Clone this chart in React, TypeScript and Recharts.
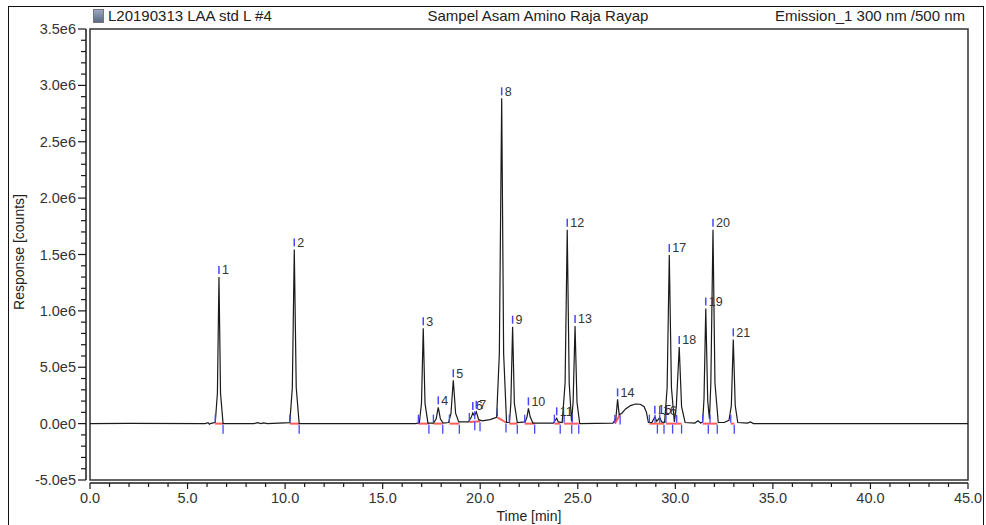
import React from "react";
import {
  ComposedChart,
  Line,
  Scatter,
  XAxis,
  YAxis,
  ReferenceArea,
  ReferenceLine,
} from "recharts";

// chromatogram trace: time [min] / response [counts]
const traceTime = [
  0, 2, 5.9, 6.05, 6.12, 6.2, 6.42, 6.53, 6.61, 6.69, 6.82, 8.4, 8.6, 8.75, 8.9, 9.1,
  10.24, 10.37, 10.47, 10.57, 10.72, 16.7, 16.88, 16.99, 17.08, 17.17, 17.32, 17.6,
  17.74, 17.85, 17.96, 18.1, 18.38, 18.5, 18.62, 18.74, 18.9, 19.4, 19.55, 19.62, 19.7,
  19.8, 19.92, 20.1, 20.5, 20.84, 20.98, 21.1, 21.2, 21.35, 21.5, 21.57, 21.66, 21.75,
  21.9, 22.3, 22.4, 22.47, 22.56, 22.7, 23.75, 23.85, 23.92, 24.0, 24.2, 24.35, 24.46,
  24.56, 24.68, 24.76, 24.86, 24.96, 25.1, 26.8, 26.95, 27.04, 27.12, 27.25, 27.45,
  27.7, 27.95, 28.2, 28.4, 28.52, 28.62, 28.8, 28.95, 29.05, 29.2, 29.3, 29.45, 29.58,
  29.69, 29.8, 29.95, 30.05, 30.2, 30.32, 30.5, 31.0, 31.16, 31.3, 31.4, 31.47, 31.56,
  31.66, 31.75, 31.82, 31.93, 32.03, 32.2, 32.5, 32.75, 32.87, 32.97, 33.07, 33.2, 33.7,
  33.85, 34.0, 45,
];
const traceResp = [
  0, 2000, 0, 9000, -6000, 3000, 10000, 270000, 1300000, 270000, 0, 0, 8000, 0, 6000, 0,
  8000, 320000, 1545000, 320000, 0, 0, 8000, 180000, 845000, 180000, 5000, 5000,
  40000, 145000, 40000, 5000, 10000, 90000, 385000, 90000, 15000, 15000, 60000, 95000, 70000,
  105000, 35000, 25000, 35000, 56000, 620000, 2885000, 620000, 10000, 10000, 180000, 860000, 180000,
  10000, 15000, 60000, 135000, 60000, 5000, 5000, 30000, 47000, 15000, 10000, 360000, 1720000,
  360000, 20000, 190000, 865000, 190000, 0, 5000, 40000, 215000, 80000, 90000, 130000,
  160000, 174000, 172000, 150000, 100000, 10000, 10000, 60000, 20000, 55000, 15000, 10000, 320000,
  1495000, 320000, 15000, 150000, 680000, 150000, 10000, 5000, 25000, 5000, 15000, 220000, 1020000,
  200000, 40000, 360000, 1720000, 360000, 10000, 10000, 30000, 160000, 747000, 160000, 10000, 5000,
  15000, 0, 0,
];

// labelled peaks
const peakNames = ["1", "2", "3", "4", "5", "6", "7", "8", "9", "10", "11", "12", "13", "14", "15", "16", "17", "18", "19", "20", "21"];
const peakTime = [6.61, 10.47, 17.08, 17.85, 18.62, 19.62, 19.8, 21.1, 21.66, 22.47, 23.92, 24.46, 24.86, 27.04, 28.95, 29.2, 29.69, 30.2, 31.56, 31.93, 32.97];
const peakResp = [1300000, 1545000, 845000, 145000, 385000, 95000, 105000, 2885000, 860000, 135000, 47000, 1720000, 865000, 215000, 60000, 55000, 1495000, 680000, 1020000, 1720000, 747000];

// integration marks (peak start = tick up, peak end = tick down)
const startTime = [6.42, 10.24, 16.83, 17.6, 18.42, 19.44, 19.72, 20.88, 21.49, 22.28, 23.8, 24.3, 24.72, 26.9, 28.67, 28.96, 29.2, 29.52, 30.07, 31.4, 31.78, 32.84];
const startResp = [0, 0, 0, 0, 0, 15000, 30000, 56000, 0, 0, 0, 0, 0, 0, 0, 0, 0, 0, 0, 0, 0, 0];
const endTime = [6.82, 10.72, 17.37, 18.08, 18.93, 19.72, 19.99, 21.32, 21.9, 22.79, 24.1, 24.69, 25.05, 27.17, 29.08, 29.42, 29.86, 30.32, 31.69, 32.15, 33.02];
const endResp = [0, 0, 0, 0, 0, 30000, 20000, 10000, 0, 0, 0, 0, 0, 80000, 0, 0, 0, 0, 0, 0, 0];

// red baselines under the peaks
const baseFrom = [6.42, 10.24, 16.83, 17.6, 18.42, 19.44, 20.88, 21.49, 22.28, 23.8, 24.3, 26.9, 28.67, 29.52, 31.4, 32.84];
const baseTo = [6.82, 10.72, 17.37, 18.08, 18.93, 19.99, 21.32, 21.9, 22.79, 24.1, 25.05, 27.17, 29.42, 30.32, 32.15, 33.02];
const baseFromResp = [0, 0, 0, 0, 0, 15000, 56000, 0, 0, 0, 0, 0, 0, 0, 0, 0];
const baseToResp = [0, 0, 0, 0, 0, 20000, 10000, 0, 0, 0, 0, 80000, 0, 0, 0, 0];

const xTicks = Array.from({ length: 46 }, (_, i) => i);
const yTicks = Array.from({ length: 41 }, (_, i) => (i - 5) * 100000);

const trace = traceTime.map((t, i) => ({ t, v: traceResp[i] }));
const peaks = peakNames.map((name, i) => ({ t: peakTime[i], v: peakResp[i], name }));
const marks = [
  ...startTime.map((t, i) => ({ t, v: startResp[i], up: true })),
  ...endTime.map((t, i) => ({ t, v: endResp[i], up: false })),
];

const FONT = '"Liberation Sans", Arial, sans-serif';
const INK = "#1a1a1a";
const BLUE = "#4646ff";
const RED = "#ff5c5c";

const fmtY = (v: number) => v.toExponential(1).replace("+", "");

const YTick = (p: any) => {
  const { x, y, payload } = p;
  const major = Math.round(payload.value / 100000) % 5 === 0;
  const ax = x - 4;
  return (
    <g>
      <line x1={ax} x2={ax - (major ? 8 : 5)} y1={y} y2={y} stroke={INK} strokeWidth={1.2} />
      {major && (
        <text x={ax - 10} y={y} dy="0.35em" textAnchor="end" fontSize={14.5} fill="#333" fontFamily={FONT}>
          {fmtY(payload.value)}
        </text>
      )}
    </g>
  );
};

const XTick = (p: any) => {
  const { x, y, payload } = p;
  const major = payload.value % 5 === 0;
  const ay = y + 3;
  return (
    <g>
      <line x1={x} x2={x} y1={ay} y2={ay + (major ? 6 : 4)} stroke={INK} strokeWidth={1.2} />
      {major && (
        <text x={x} y={ay + 15} dy="0.35em" textAnchor="middle" fontSize={14.5} fill="#333" fontFamily={FONT}>
          {payload.value.toFixed(1)}
        </text>
      )}
    </g>
  );
};

const ApexMark = (p: any) => {
  const { cx, cy, payload } = p;
  return (
    <g>
      <line x1={cx} x2={cx} y1={cy - 11} y2={cy - 3} stroke={BLUE} strokeWidth={1.5} />
      <text x={cx + 3} y={cy - 7} dy="0.35em" fontSize={12.5} fill="#333" fontFamily={FONT}>
        {payload.name}
      </text>
    </g>
  );
};

const EdgeMark = (p: any) => {
  const { cx, cy, payload } = p;
  return payload.up ? (
    <line x1={cx} x2={cx} y1={cy - 9} y2={cy - 1} stroke={BLUE} strokeWidth={1.3} />
  ) : (
    <line x1={cx} x2={cx} y1={cy + 1} y2={cy + 10} stroke={BLUE} strokeWidth={1.3} />
  );
};

export default function App() {
  return (
    <div
      style={{
        position: "absolute",
        left: 0,
        top: 0,
        width: 986,
        height: 525,
        overflow: "hidden",
        background: "#fff",
        fontFamily: FONT,
      }}
    >
      {/* outer frame */}
      <div
        style={{
          position: "absolute",
          left: 8,
          top: 6,
          width: 974,
          height: 540,
          border: "1.5px solid #111",
        }}
      />
      <ComposedChart
        width={986}
        height={525}
        data={trace}
        margin={{ top: 29, right: 18, bottom: 5, left: 8 }}
        style={{ position: "absolute", left: 0, top: 0 }}
      >
        <ReferenceArea
          x1={0}
          x2={45}
          y1={-500000}
          y2={3500000}
          fill="none"
          stroke="#333"
          strokeWidth={1.5}
          fillOpacity={0}
        />
        <XAxis
          dataKey="t"
          type="number"
          domain={[0, 45]}
          ticks={xTicks}
          interval={0}
          height={40}
          tickSize={0}
          tickMargin={0}
          tickLine={false}
          tick={<XTick />}
          axisLine={{ stroke: INK, strokeWidth: 1.5, transform: "translate(0,3)" }}
        />
        <YAxis
          type="number"
          domain={[-500000, 3500000]}
          ticks={yTicks}
          interval={0}
          width={82}
          tickSize={0}
          tickMargin={0}
          tickLine={false}
          tick={<YTick />}
          axisLine={{ stroke: INK, strokeWidth: 1.5, transform: "translate(-4,0)" }}
        />
        {baseFrom.map((t, i) => (
          <ReferenceLine
            key={i}
            segment={[
              { x: t, y: baseFromResp[i] },
              { x: baseTo[i], y: baseToResp[i] },
            ]}
            stroke={RED}
            strokeWidth={2}
          />
        ))}
        <Line
          dataKey="v"
          type="linear"
          stroke={INK}
          strokeWidth={1.2}
          dot={false}
          isAnimationActive={false}
        />
        <Scatter data={marks} dataKey="v" shape={(p: any) => <EdgeMark {...p} />} isAnimationActive={false} />
        <Scatter data={peaks} dataKey="v" shape={(p: any) => <ApexMark {...p} />} isAnimationActive={false} />
      </ComposedChart>

      {/* header row */}
      <div
        style={{
          position: "absolute",
          left: 93,
          top: 9,
          width: 11,
          height: 14,
          background: "linear-gradient(#9aa8c0, #5b6b86)",
          border: "1px solid #777",
          boxSizing: "border-box",
        }}
      />
      <div style={{ position: "absolute", left: 108, top: 7, fontSize: 15, color: "#222", whiteSpace: "nowrap" }}>
        L20190313 LAA std L #4
      </div>
      <div
        style={{
          position: "absolute",
          left: 538,
          top: 7,
          transform: "translateX(-50%)",
          fontSize: 15,
          color: "#222",
          whiteSpace: "nowrap",
        }}
      >
        Sampel Asam Amino Raja Rayap
      </div>
      <div style={{ position: "absolute", right: 21, top: 7, fontSize: 15, color: "#222", whiteSpace: "nowrap" }}>
        Emission_1 300 nm /500 nm
      </div>

      {/* axis titles */}
      <div
        style={{
          position: "absolute",
          left: 19,
          top: 252,
          transform: "translate(-50%,-50%) rotate(-90deg)",
          fontSize: 14,
          color: "#222",
          whiteSpace: "nowrap",
        }}
      >
        Response [counts]
      </div>
      <div
        style={{
          position: "absolute",
          left: 529,
          top: 516,
          transform: "translate(-50%,-50%)",
          fontSize: 14,
          color: "#222",
          whiteSpace: "nowrap",
        }}
      >
        Time [min]
      </div>
    </div>
  );
}
